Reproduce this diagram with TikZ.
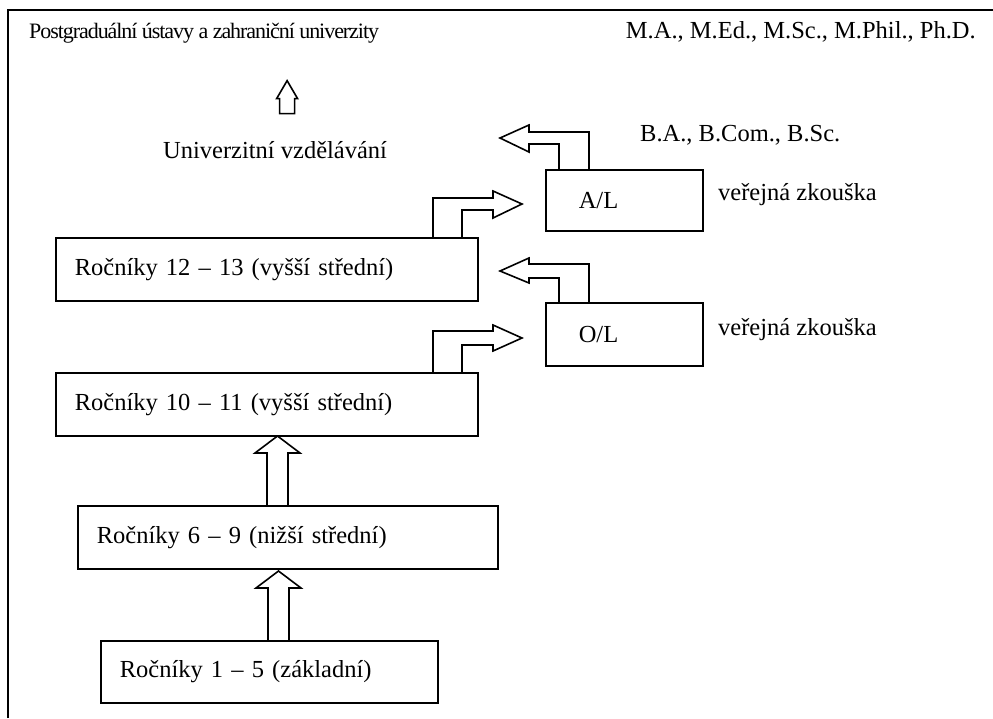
\documentclass[tikz,border=0pt]{standalone}
\usepackage{fontspec}
\setmainfont{Liberation Serif}
\usetikzlibrary{positioning}
\tikzset{
  stupen/.style={draw, line width=1.6pt, anchor=north west, minimum height=63pt,
    inner xsep=19pt, inner ysep=0pt, align=left},
  blk/.style={draw, line width=1.6pt, line join=miter},
  popis/.style={anchor=west, inner sep=0pt},
  hlava/.style={anchor=base west, inner sep=0pt},
}
\begin{document}
\begin{tikzpicture}[x=1pt,y=-1pt,font=\fontsize{24.5pt}{29pt}\selectfont]
  \useasboundingbox (0,0) rectangle (993,718);
  \draw[line width=2.2pt] (8,718) -- (8,10) -- (993,10);

  % texty nahore
  \node[hlava, font=\fontsize{22pt}{26pt}\selectfont\addfontfeature{LetterSpace=-4.8}]
    (postgr) at (29,38) {Postgraduální ústavy a zahraniční univerzity};
  \node[hlava, anchor=base east] (tituly) at (976,38) {M.A., M.Ed., M.Sc., M.Phil., Ph.D.};
  \node[popis] (univ) at (163,150) {Univerzitní vzdělávání};
  \node[popis] (bakal) at (640,135) {B.A., B.Com., B.Sc.};

  % zkousky
  \node[stupen, minimum height=61pt, inner xsep=33pt, text width=91pt] (al) at (545,169) {A/L};
  \node[stupen, inner xsep=33pt, text width=91pt] (ol) at (545,302) {O/L};
  \node[popis] (zkal) at (718,195) {veřejná zkouška};
  \node[popis] (zkol) at (718,330) {veřejná zkouška};

  % rocniky
  \node[stupen, text width=384pt] (r1213) at (55,237) {Ročníky 12 – 13 (vyšší střední)};
  \node[stupen, text width=384pt] (r1011) at (55,372) {Ročníky 10 – 11 (vyšší střední)};
  \node[stupen, text width=382pt] (r69) at (77,505) {Ročníky 6 – 9 (nižší střední)};
  \node[stupen, minimum height=62pt, text width=299pt] (r15) at (100,640) {Ročníky 1 – 5 (základní)};

  % sipky nahoru
  \draw[blk] ([xshift=168pt]r15.north west) -- ++(0,-52) -- ++(-12,0) -- ++(22.5,-17)
    -- ++(22.5,17) -- ++(-12,0) -- ++(0,52);
  \draw[blk] ([xshift=190pt]r69.north west) -- ++(0,-52) -- ++(-12,0) -- ++(22.5,-17)
    -- ++(22.5,17) -- ++(-12,0) -- ++(0,52);
  \draw[blk] ([xshift=4.5pt,yshift=27.5pt]univ.north) -- ++(0,-15) -- ++(-3,0) -- ++(10.5,-18)
    -- ++(10.5,18) -- ++(-3,0) -- ++(0,15) -- cycle;

  % sipky k zkouskam
  \draw[blk] ([xshift=378pt]r1213.north west) -- ++(0,-39) -- ++(60,0) -- ++(0,-7)
    -- ++(29,13) -- ++(-29,14) -- ++(0,-8) -- ++(-31,0) -- ++(0,27);
  \draw[blk] ([xshift=378pt]r1011.north west) -- ++(0,-41) -- ++(60,0) -- ++(0,-6)
    -- ++(29,13) -- ++(-29,13) -- ++(0,-6) -- ++(-31,0) -- ++(0,27);

  % sipky od zkousek
  \draw[blk] ([xshift=44pt]al.north west) -- ++(0,-37) -- ++(-60,0) -- ++(0,-7)
    -- ++(-29,13) -- ++(29,14) -- ++(0,-8) -- ++(30,0) -- ++(0,25);
  \draw[blk] ([xshift=44pt]ol.north west) -- ++(0,-38) -- ++(-60,0) -- ++(0,-6)
    -- ++(-29,13) -- ++(29,12) -- ++(0,-5) -- ++(30,0) -- ++(0,24);
\end{tikzpicture}
\end{document}
